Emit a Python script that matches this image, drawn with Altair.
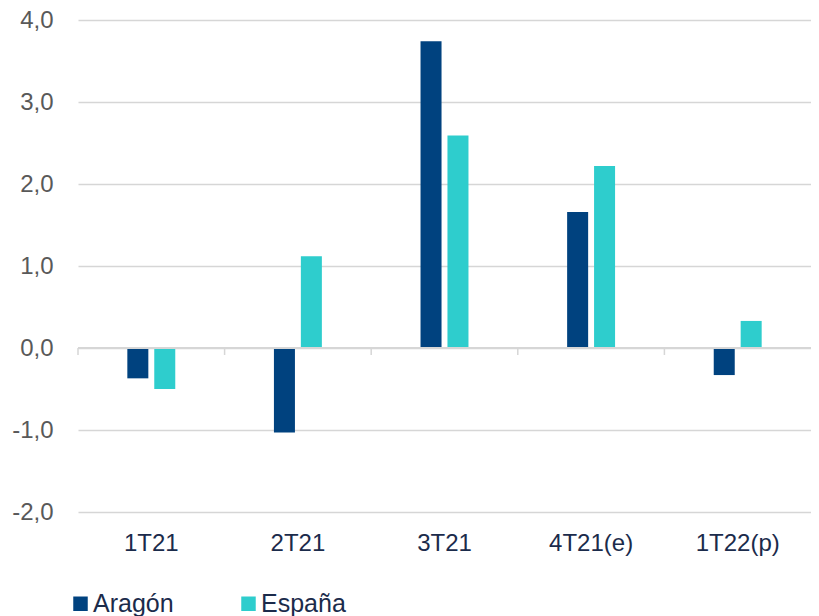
import altair as alt
import pandas as pd

categories = ["1T21", "2T21", "3T21", "4T21(e)", "1T22(p)"]
aragon = [-0.37, -1.03, 3.74, 1.66, -0.33]
espana = [-0.50, 1.12, 2.59, 2.22, 0.33]
series = ["Aragón", "España"]
colors = ["#00427F", "#2ECDCD"]
y_ticks = [-2, -1, 0, 1, 2, 3, 4]

rows = []
for c, a, e in zip(categories, aragon, espana):
    rows.append({"cat": c, "serie": "Aragón", "value": a})
    rows.append({"cat": c, "serie": "España", "value": e})
df = pd.DataFrame(rows)
df_c = pd.DataFrame({"cat": categories})

FONT = "Liberation Sans"
GRID = "#D6D6D6"
NAVY = "#1B2B4B"

PAD_IN = 0.673
STEP = 733 / 5

x_scale = alt.Scale(paddingInner=PAD_IN, paddingOuter=PAD_IN / 2)
y_scale = alt.Scale(domain=[-2, 4], nice=False)
y_axis = alt.Axis(values=y_ticks, labelFont=FONT, labelFontSize=24,
                  labelColor="#595959", ticks=False, domain=False,
                  grid=True, gridColor=GRID, gridWidth=1.5,
                  labelPadding=25, title=None,
                  labelExpr="replace(replace(format(datum.value, '.1f'), '.', ','), '\u2212', '-')")
x_axis = alt.Axis(labelAngle=0, labelFont=FONT, labelFontSize=24,
                  labelColor=NAVY, ticks=False, domain=False,
                  grid=False, labelPadding=19, title=None)

bars = alt.Chart(df).mark_bar(stroke=None).encode(
    x=alt.X("cat:N", sort=categories, scale=x_scale, axis=x_axis),
    xOffset=alt.XOffset("serie:N", sort=series,
                        scale=alt.Scale(paddingInner=0.22, paddingOuter=0)),
    y=alt.Y("value:Q", scale=y_scale, axis=y_axis),
    color=alt.Color("serie:N", sort=series,
                    scale=alt.Scale(domain=series, range=colors),
                    legend=alt.Legend(title=None, orient="none", direction="horizontal",
                                      legendX=-10, legendY=571,
                                      symbolType="square", symbolSize=210,
                                      symbolStrokeWidth=0, symbolOpacity=1,
                                      labelFont=FONT, labelFontSize=25,
                                      labelColor=NAVY, labelOffset=0,
                                      columnPadding=62, padding=0,
                                      labelLimit=300)),
)

zero_line = alt.Chart(df_c).mark_rule(color=GRID, strokeWidth=2).encode(
    y=alt.datum(0),
)

ticks = alt.Chart(df_c).mark_rule(color=GRID, strokeWidth=1.5,
                                  xOffset=-STEP * PAD_IN / 2).encode(
    x=alt.X("cat:N", sort=categories, scale=x_scale, axis=x_axis, bandPosition=0),
    y=alt.datum(0),
    y2=alt.datum(-0.085),
)

chart = alt.layer(bars, zero_line, ticks).properties(
    width=733, height=492,
    background="white",
    autosize=alt.AutoSizeParams(type="none"),
    padding={"left": 70, "top": 12, "right": 0, "bottom": 104},
).configure_view(
    strokeWidth=0, stroke=None
).configure_axis(
    domain=False, ticks=False
)

chart.save("out.html", embed_options={"renderer": "svg", "actions": False})
